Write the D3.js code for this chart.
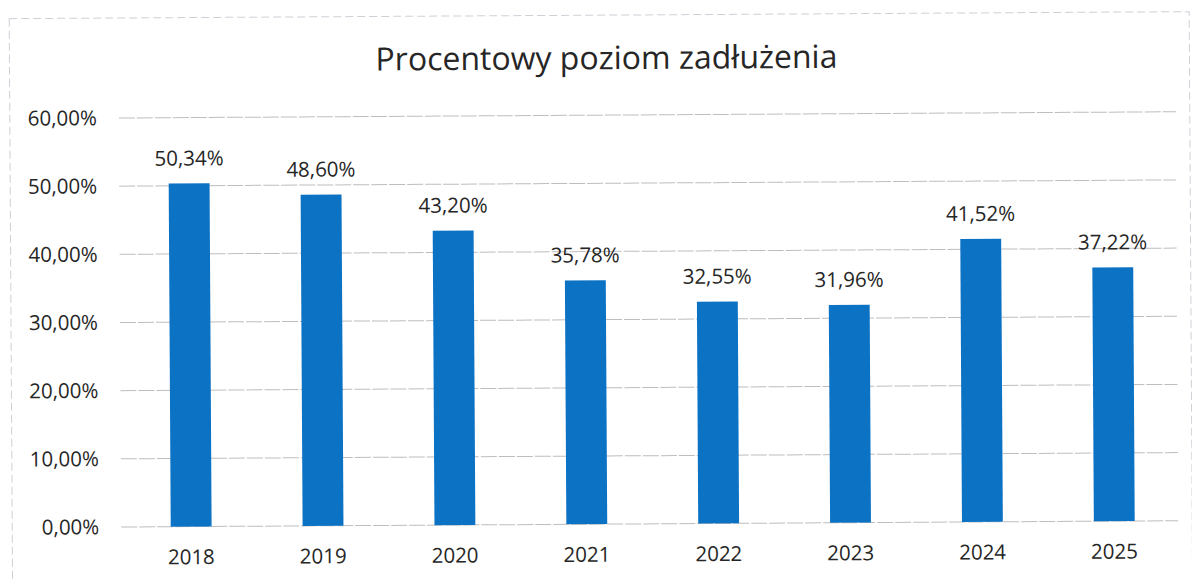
<!DOCTYPE html>
<html>
<head>
<meta charset="utf-8">
<script src="https://cdn.jsdelivr.net/npm/d3@7"></script>
<style>
  body { margin: 0; background: #fff; }
  text { font-family: "Open Sans", "Noto Sans", sans-serif; fill: #262626; }
</style>
</head>
<body>
<div id="chart"></div>
<script>
var years = ["2018", "2019", "2020", "2021", "2022", "2023", "2024", "2025"];
var values = [50.34, 48.60, 43.20, 35.78, 32.55, 31.96, 41.52, 37.22];
var yTicks = [0, 10, 20, 30, 40, 50, 60];
var title = "Procentowy poziom zadłużenia";

var width = 1192, height = 579;
var plot = {left: 120, right: 1177, top: 118, bottom: 527};

var fmt = function(v) { return v.toFixed(2).replace(".", ",") + "%"; };

var svg = d3.select("#chart")
    .append("svg")
    .attr("width", width)
    .attr("height", height);

// scan is slightly tilted, pivot on the left end of the axis
var root = svg.append("g")
    .attr("transform", "rotate(-0.34, 120, 320)");

root.append("rect")
    .attr("x", 11).attr("y", 18)
    .attr("width", 1180).attr("height", 600)
    .attr("fill", "none")
    .attr("stroke", "#cfcfd8")
    .attr("stroke-width", 1)
    .attr("stroke-dasharray", "8,4");

root.append("text")
    .attr("x", 608)
    .attr("y", 72)
    .attr("text-anchor", "middle")
    .style("font-size", "32px")
    .text(title);

var x = d3.scaleBand()
    .domain(years)
    .range([124, 1179])
    .paddingInner(0.69)
    .paddingOuter(0.345);

var y = d3.scaleLinear()
    .domain([0, 60])
    .range([plot.bottom, plot.top]);

// gridlines
root.append("g")
    .selectAll("line")
    .data(yTicks)
    .join("line")
    .attr("x1", plot.left)
    .attr("x2", plot.right)
    .attr("y1", function(d) { return y(d); })
    .attr("y2", function(d) { return y(d); })
    .attr("stroke", "#bdbdbd")
    .attr("stroke-width", 1)
    .attr("stroke-dasharray", "16,2");

// y axis
var yAxis = root.append("g")
    .attr("transform", "translate(" + (plot.left - 22) + ",0)")
    .call(d3.axisLeft(y).tickValues(yTicks).tickFormat(fmt).tickSize(0).tickPadding(0));
yAxis.select(".domain").remove();
yAxis.selectAll("text").style("font-size", "20.5px").attr("fill", "#262626");

// x axis
var xAxis = root.append("g")
    .attr("transform", "translate(0," + plot.bottom + ")")
    .call(d3.axisBottom(x).tickSize(0).tickPadding(23));
xAxis.select(".domain").remove();
xAxis.selectAll("text").style("font-size", "20.5px").attr("fill", "#262626");

// bars
root.append("g")
    .selectAll("rect")
    .data(values)
    .join("rect")
    .attr("x", function(d, i) { return x(years[i]); })
    .attr("y", function(d) { return y(d); })
    .attr("width", x.bandwidth())
    .attr("height", function(d) { return y(0) - y(d); })
    .attr("fill", "#0c72c4");

// value labels
root.append("g")
    .selectAll("text")
    .data(values)
    .join("text")
    .attr("x", function(d, i) { return x(years[i]) + x.bandwidth() / 2; })
    .attr("y", function(d) { return y(d) - 18; })
    .attr("text-anchor", "middle")
    .style("font-size", "20.5px")
    .text(fmt);
</script>
</body>
</html>
